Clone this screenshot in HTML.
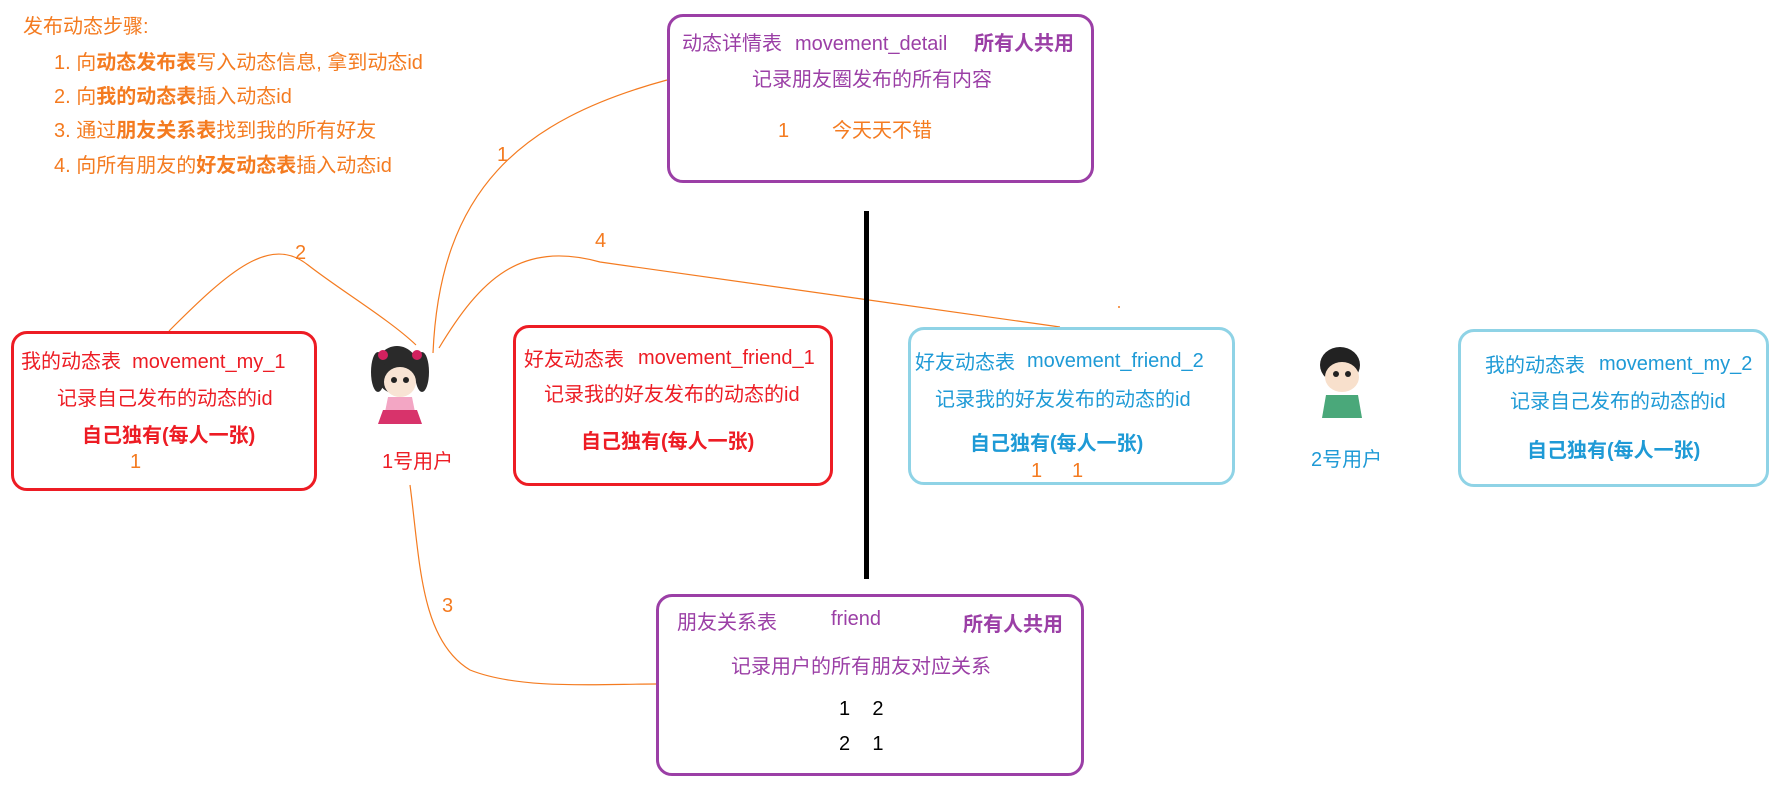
<!DOCTYPE html>
<html><head><meta charset="utf-8"><style>
body{margin:0;width:1787px;height:794px;background:#fff;position:relative;overflow:hidden;font-family:"Liberation Sans","Noto Sans CJK SC",sans-serif;font-size:20px}
.t{position:absolute;white-space:nowrap;line-height:1;transform:translateY(-50%)}
.b{position:absolute;border-radius:16px;box-sizing:border-box}
.o{color:#f47b20}.p{color:#9b3fa6}.r{color:#ed1c24}.u{color:#1e9ad6}
b{font-weight:bold}
</style></head><body>
<svg width="1787" height="794" style="position:absolute;left:0;top:0">
<g fill="none" stroke="#f47b20" stroke-width="1.2">
<path d="M667,80 C520,120 440,190 433,353"/>
<path d="M169,331 C230,270 270,235 308,265 C340,290 390,320 416,345"/>
<path d="M439,348 C480,280 520,240 600,262 L1060,327"/>
<path d="M410,485 C420,560 420,640 470,670 C520,690 600,684 656,684"/>
</g>
<circle cx="1119" cy="307" r="1" fill="#f47b20"/>
<rect x="864" y="211" width="5" height="368" fill="#000"/>
<g>
<ellipse cx="397" cy="370" rx="22" ry="24" fill="#2a2a2a"/>
<ellipse cx="378" cy="372" rx="7" ry="20" fill="#2a2a2a"/>
<ellipse cx="422" cy="372" rx="7" ry="20" fill="#2a2a2a"/>
<circle cx="383" cy="355" r="5" fill="#d2215f"/><circle cx="417" cy="355" r="5" fill="#d2215f"/>
<ellipse cx="400" cy="382" rx="16" ry="15" fill="#f8e4d4"/>
<circle cx="394" cy="380" r="3" fill="#222"/><circle cx="406" cy="380" r="3" fill="#222"/>
<path d="M388,397 L412,397 L415,412 L385,412 Z" fill="#f3a6c4"/>
<path d="M383,410 L417,410 L422,424 L378,424 Z" fill="#d8336b"/>
</g>
<g>
<ellipse cx="1340" cy="365" rx="20" ry="18" fill="#222"/>
<ellipse cx="1342" cy="377" rx="17" ry="15" fill="#f8e0cc"/>
<circle cx="1336" cy="374" r="3" fill="#222"/><circle cx="1348" cy="374" r="3" fill="#222"/>
<path d="M1326,395 L1358,395 L1362,418 L1322,418 Z" fill="#4aa87a"/>
</g>
</svg>

<div class="t o" style="left:23px;top:27px">发布动态步骤:</div>
<div class="t o" style="left:54px;top:63px">1. 向<b>动态发布表</b>写入动态信息, 拿到动态id</div>
<div class="t o" style="left:54px;top:97px">2. 向<b>我的动态表</b>插入动态id</div>
<div class="t o" style="left:54px;top:131px">3. 通过<b>朋友关系表</b>找到我的所有好友</div>
<div class="t o" style="left:54px;top:166px">4. 向所有朋友的<b>好友动态表</b>插入动态id</div>

<div class="b" style="left:667px;top:14px;width:427px;height:169px;border:3px solid #9b3fa6"></div>
<div class="t p" style="left:682px;top:44px">动态详情表</div>
<div class="t p" style="left:795px;top:44px">movement_detail</div>
<div class="t p" style="left:974px;top:44px"><b>所有人共用</b></div>
<div class="t p" style="left:752px;top:80px">记录朋友圈发布的所有内容</div>
<div class="t o" style="left:778px;top:131px">1</div>
<div class="t o" style="left:832px;top:131px">今天天不错</div>
<div class="t o" style="left:497px;top:155px">1</div>
<div class="t o" style="left:295px;top:253px">2</div>
<div class="t o" style="left:595px;top:241px">4</div>
<div class="t o" style="left:442px;top:606px">3</div>

<div class="b" style="left:11px;top:331px;width:306px;height:160px;border:3px solid #ed1c24"></div>
<div class="t r" style="left:21px;top:362px">我的动态表&nbsp; movement_my_1</div>
<div class="t r" style="left:57px;top:399px">记录自己发布的动态的id</div>
<div class="t r" style="left:82px;top:436px"><b>自己独有(每人一张)</b></div>
<div class="t o" style="left:130px;top:462px">1</div>
<div class="t r" style="left:382px;top:462px">1号用户</div>

<div class="b" style="left:513px;top:325px;width:320px;height:161px;border:3px solid #ed1c24"></div>
<div class="t r" style="left:524px;top:360px">好友动态表</div>
<div class="t r" style="left:638px;top:358px">movement_friend_1</div>
<div class="t r" style="left:544px;top:395px">记录我的好友发布的动态的id</div>
<div class="t r" style="left:581px;top:442px"><b>自己独有(每人一张)</b></div>

<div class="b" style="left:908px;top:327px;width:327px;height:158px;border:3px solid #8fd3e6"></div>
<div class="t u" style="left:915px;top:363px">好友动态表</div>
<div class="t u" style="left:1027px;top:361px">movement_friend_2</div>
<div class="t u" style="left:935px;top:400px">记录我的好友发布的动态的id</div>
<div class="t u" style="left:970px;top:444px"><b>自己独有(每人一张)</b></div>
<div class="t o" style="left:1031px;top:471px">1</div>
<div class="t o" style="left:1072px;top:471px">1</div>
<div class="t u" style="left:1311px;top:460px">2号用户</div>

<div class="b" style="left:1458px;top:329px;width:311px;height:158px;border:3px solid #8fd3e6"></div>
<div class="t u" style="left:1485px;top:366px">我的动态表</div>
<div class="t u" style="left:1599px;top:364px">movement_my_2</div>
<div class="t u" style="left:1510px;top:402px">记录自己发布的动态的id</div>
<div class="t u" style="left:1527px;top:451px"><b>自己独有(每人一张)</b></div>

<div class="b" style="left:656px;top:594px;width:428px;height:182px;border:3px solid #9b3fa6"></div>
<div class="t p" style="left:677px;top:623px">朋友关系表</div>
<div class="t p" style="left:831px;top:619px">friend</div>
<div class="t p" style="left:963px;top:625px"><b>所有人共用</b></div>
<div class="t p" style="left:731px;top:667px">记录用户的所有朋友对应关系</div>
<div class="t" style="left:839px;top:709px">1&nbsp;&nbsp;&nbsp; 2</div>
<div class="t" style="left:839px;top:744px">2&nbsp;&nbsp;&nbsp; 1</div>
</body></html>
